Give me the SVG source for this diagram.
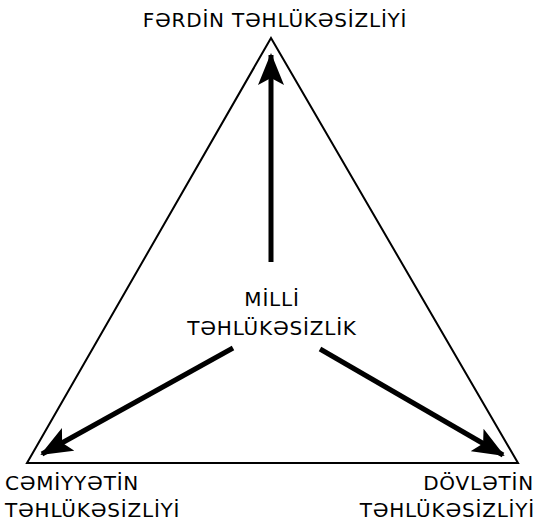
<svg xmlns="http://www.w3.org/2000/svg" width="541" height="523" viewBox="0 0 541 523">
<defs>
<style>
text{font-family:"DejaVu Sans",sans-serif;font-size:20px;letter-spacing:0.8px;fill:#000}
.arr{stroke:#000;stroke-width:5;fill:none;marker-end:url(#ah)}
</style>
<marker id="ah" markerWidth="32" markerHeight="26" refX="30" refY="13" orient="auto" markerUnits="userSpaceOnUse">
<path d="M0,0 L32,13 L0,26 L7,13 Z" fill="#000"/>
</marker>
</defs>
<rect width="541" height="523" fill="#fff"/>
<g id="triangle"><polygon points="271,38 27,463 518,463" fill="none" stroke="#000" stroke-width="2"/></g>
<g id="connectors">
<line class="arr" x1="271" y1="262" x2="271" y2="55"/>
<line class="arr" x1="233" y1="348" x2="42" y2="454"/>
<line class="arr" x1="320" y1="349" x2="503" y2="455"/>
</g>
<g id="top"><text x="275" y="27" text-anchor="middle">FƏRDİN TƏHLÜKƏSİZLİYİ</text></g>
<g id="center"><text x="272" y="306" text-anchor="middle">MİLLİ</text><text x="272" y="335" text-anchor="middle">TƏHLÜKƏSİZLİK</text></g>
<g id="left"><text x="5" y="490">CƏMİYYƏTİN</text><text x="5" y="517">TƏHLÜKƏSİZLİYİ</text></g>
<g id="right"><text x="534" y="490" text-anchor="end">DÖVLƏTİN</text><text x="535" y="517" text-anchor="end">TƏHLÜKƏSİZLİYİ</text></g>
</svg>
